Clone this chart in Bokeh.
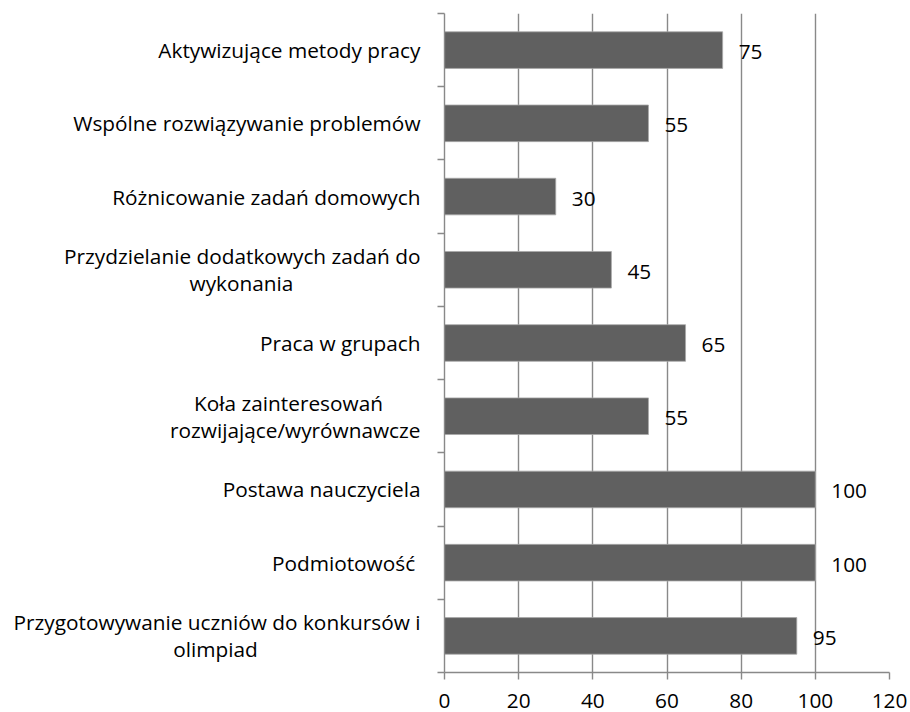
from bokeh.plotting import figure
from bokeh.layouts import row
from bokeh.models import Range1d, FixedTicker, ColumnDataSource, LabelSet, LinearAxis
from bokeh.core.properties import value
from bokeh.embed import file_html
from bokeh.resources import INLINE

categories = [
    "Aktywizujące metody pracy",
    "Wspólne rozwiązywanie problemów",
    "Różnicowanie zadań domowych",
    "Przydzielanie dodatkowych zadań do\nwykonania",
    "Praca w grupach",
    "Koła zainteresowań\nrozwijające/wyrównawcze",
    "Postawa nauczyciela",
    "Podmiotowość ",
    "Przygotowywanie uczniów do konkursów i\nolimpiad",
]
values = [75, 55, 30, 45, 65, 55, 100, 100, 95]
x_ticks = [0, 20, 40, 60, 80, 100, 120]

FONT = "Open Sans"
FS = "20.8px"
GRID = "#898989"
GRID_W = 1.4
H = 712
TOP, BOTTOM = 13, 40
LAB_W = 424

n = len(categories)
ypos = [n - 0.5 - i for i in range(n)]
yr = Range1d(0, n)

# ---- main chart ----
p = figure(width=484, height=H, output_backend="svg", toolbar_location=None,
           x_range=Range1d(0, 120), y_range=yr,
           x_axis_location=None, y_axis_location=None,
           min_border_left=20, min_border_right=19, min_border_top=TOP, min_border_bottom=BOTTOM)
p.outline_line_color = None
p.background_fill_color = "white"

src = ColumnDataSource(dict(y=ypos, v=values, lab=[str(v) for v in values]))
p.hbar(y="y", right="v", left=0, height=0.5, source=src,
       fill_color="#606060", line_color="#a8a8a8", line_width=0.8)

p.xgrid.ticker = FixedTicker(ticks=x_ticks)
p.xgrid.grid_line_color = GRID
p.xgrid.grid_line_width = GRID_W
p.ygrid.grid_line_color = None

xaxis = LinearAxis(ticker=FixedTicker(ticks=x_ticks))
xaxis.axis_line_color = GRID
xaxis.axis_line_width = GRID_W
xaxis.major_tick_line_color = GRID
xaxis.major_tick_line_width = GRID_W
xaxis.major_tick_out = 7
xaxis.major_tick_in = 0
xaxis.minor_tick_line_color = None
xaxis.major_label_text_font = FONT
xaxis.major_label_text_font_size = FS
xaxis.major_label_text_color = "black"
xaxis.major_label_standoff = 14
p.add_layout(xaxis, "below")

yaxis = LinearAxis(ticker=FixedTicker(ticks=[], minor_ticks=list(range(n + 1))))
yaxis.axis_line_color = GRID
yaxis.axis_line_width = GRID_W
yaxis.major_tick_line_color = None
yaxis.minor_tick_line_color = GRID
yaxis.minor_tick_line_width = GRID_W
yaxis.minor_tick_out = 7
yaxis.minor_tick_in = 0
p.add_layout(yaxis, "left")

p.add_layout(LabelSet(x="v", y="y", text="lab", source=src, x_offset=16, y_offset=-2,
                      text_baseline="middle", text_align="left",
                      text_font=value(FONT), text_font_size=FS, text_color="black"))

# ---- category label panel (shares the y scale) ----
lab = figure(width=LAB_W, height=H, output_backend="svg", toolbar_location=None,
             x_range=Range1d(0, LAB_W), y_range=yr,
             x_axis_location=None, y_axis_location=None,
             min_border_left=0, min_border_right=0, min_border_top=TOP, min_border_bottom=BOTTOM)
lab.outline_line_color = None
lab.xgrid.grid_line_color = None
lab.ygrid.grid_line_color = None

RIGHT_EDGE = 420
short_line_centre = {3: 241, 5: 288, 8: 215}
LINE_GAP = 13.5
rows = dict(x=[], y=[], t=[], align=[], dy=[])
for i, c in enumerate(categories):
    lines = c.split("\n")
    if len(lines) == 1:
        rows["x"].append(RIGHT_EDGE); rows["y"].append(ypos[i]); rows["t"].append(c)
        rows["align"].append("right"); rows["dy"].append(0)
        continue
    longest = max(range(len(lines)), key=lambda k: len(lines[k]))
    for k, ln in enumerate(lines):
        rows["y"].append(ypos[i]); rows["t"].append(ln)
        rows["dy"].append(-LINE_GAP if k == 0 else LINE_GAP)
        if k == longest:
            rows["x"].append(RIGHT_EDGE); rows["align"].append("right")
        else:
            rows["x"].append(short_line_centre[i]); rows["align"].append("center")

lab.text(x="x", y="y", text="t", source=ColumnDataSource(rows),
         y_offset="dy", text_align="align", text_baseline="middle",
         text_font=value(FONT), text_font_size=FS, text_color="black")

layout = row(lab, p, spacing=0)
open("out.html", "w").write(file_html(layout, INLINE))
